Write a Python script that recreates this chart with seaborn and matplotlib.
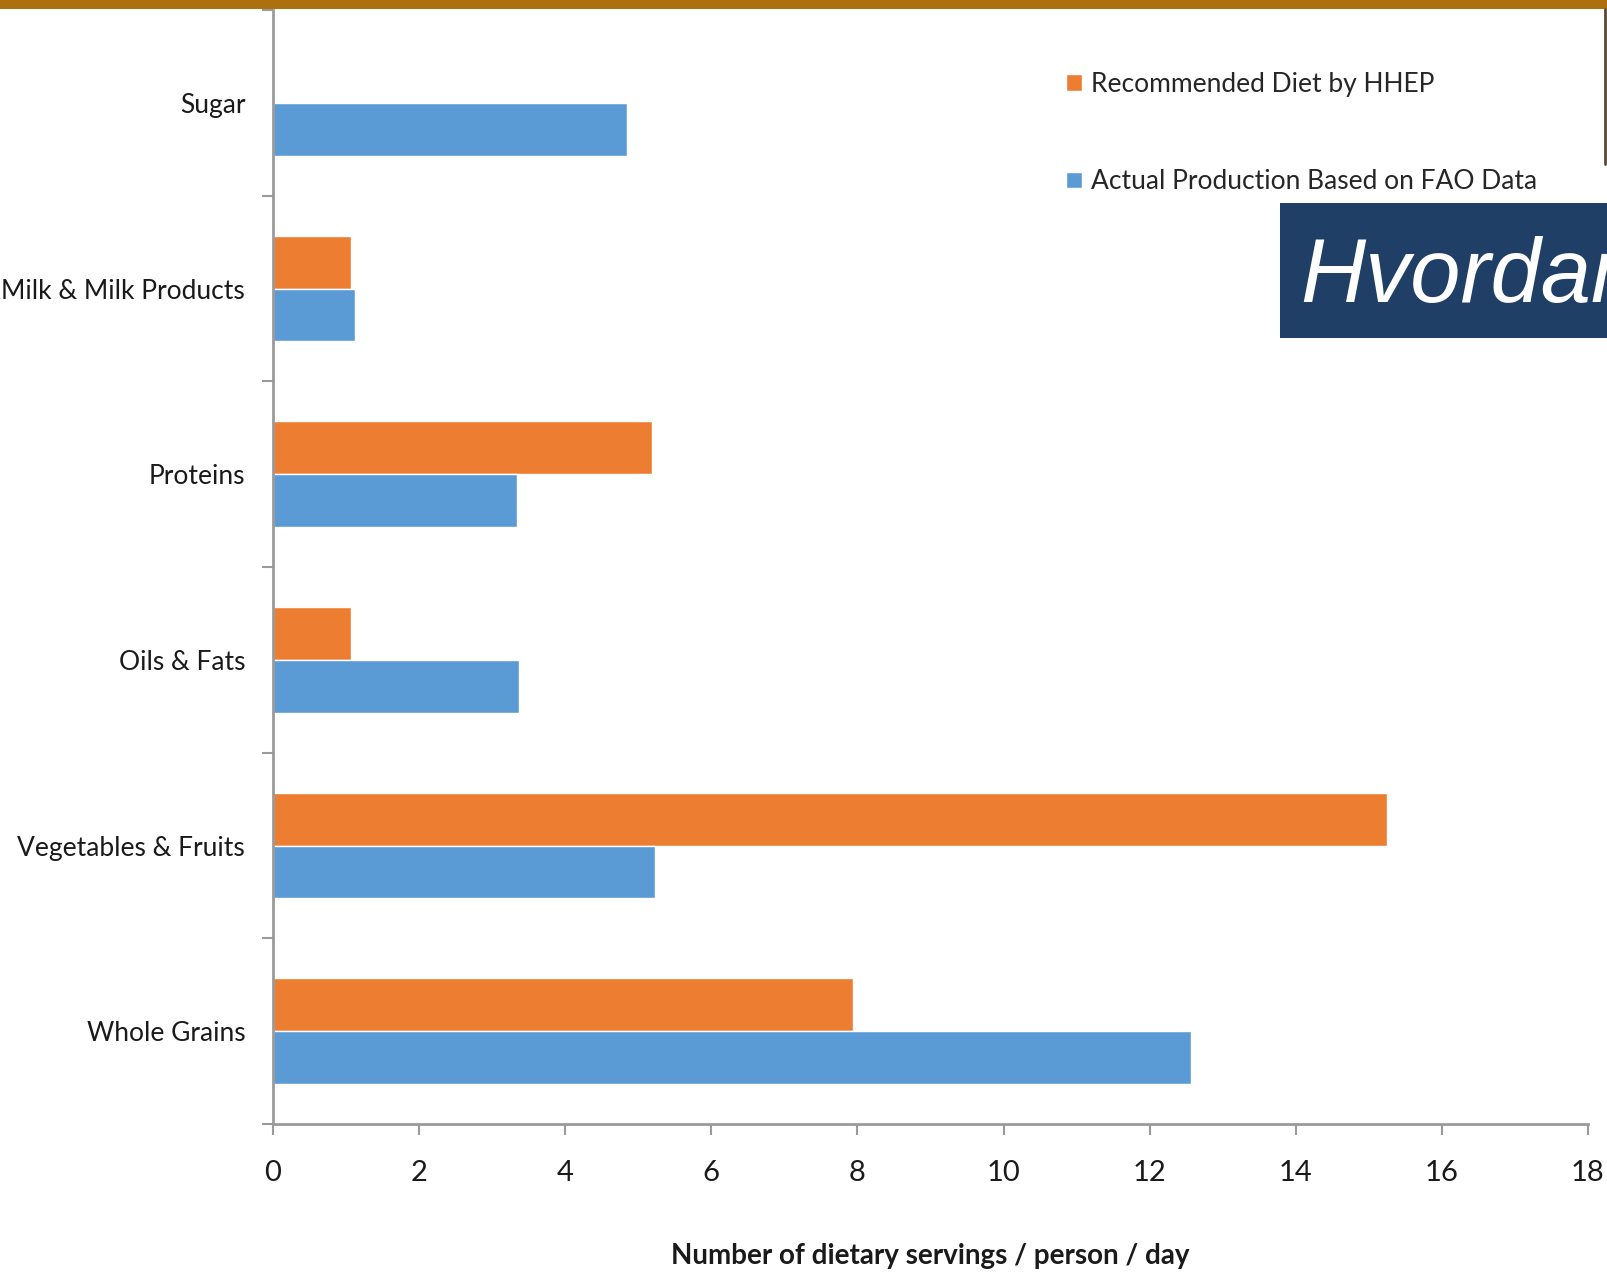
import numpy as np
import pandas as pd
import matplotlib
matplotlib.use("Agg")
import matplotlib.pyplot as plt
import seaborn as sns
from matplotlib.patches import Rectangle
from matplotlib.lines import Line2D

# --- data ---
categories = ["Sugar", "Milk & Milk Products", "Proteins", "Oils & Fats",
              "Vegetables & Fruits", "Whole Grains"]
recommended = [0.0, 1.07, 5.19, 1.07, 15.25, 7.94]
actual = [4.84, 1.12, 3.34, 3.37, 5.23, 12.57]
series_names = ["Recommended Diet by HHEP", "Actual Production Based on FAO Data"]
x_ticks = [0, 2, 4, 6, 8, 10, 12, 14, 16, 18]

df = pd.DataFrame({
    "Category": categories * 2,
    "Servings": recommended + actual,
    "Series": [series_names[0]] * len(categories) + [series_names[1]] * len(categories),
})

sns.set_style("white")
plt.rcParams["font.family"] = ["Lato", "DejaVu Sans"]

W, H = 1608, 1277
fig = plt.figure(figsize=(W / 100, H / 100), dpi=100)
ax = fig.add_axes([273 / W, 1 - 1124 / H, (1588 - 273) / W, (1124 - 10) / H])

sns.barplot(data=df, y="Category", x="Servings", hue="Series", order=categories,
            hue_order=series_names, palette=["#ED7D31", "#5B9BD5"],
            width=0.57, orient="h", ax=ax, saturation=1)

ax.set_xlim(0, 18)
ax.set_ylim(len(categories) - 0.5, -0.5)
ax.set_xticks(x_ticks)
ax.set_xticklabels([str(t) for t in x_ticks])
ax.set_yticks(range(len(categories)))
ax.set_yticks(np.arange(-0.5, len(categories), 1.0), minor=True)
ax.set_xlabel("")
ax.set_ylabel("")

spine_col = "#9a9a9a"
for s in ["top", "right"]:
    ax.spines[s].set_visible(False)
for s in ["left", "bottom"]:
    ax.spines[s].set_color(spine_col)
    ax.spines[s].set_linewidth(2)

ax.tick_params(axis="y", which="major", length=0, pad=20, labelsize=19, labelcolor="#1a1a1a")
ax.tick_params(axis="y", which="minor", length=8, width=1.5, color=spine_col, direction="out", left=True)
ax.tick_params(axis="x", which="major", length=8, width=1.5, color=spine_col, direction="out",
               bottom=True, pad=18, labelsize=21, labelcolor="#1a1a1a")

handles, labels = ax.get_legend_handles_labels()
ax.get_legend().remove()
fig.legend(handles, labels, loc="upper left", bbox_to_anchor=(1066 / W, 1 - 72 / H),
           frameon=False, fontsize=19, handlelength=0.6, handleheight=0.6,
           handletextpad=0.35, labelspacing=2.74, borderpad=0, borderaxespad=0)

fig.text(930 / W, 1 - 1256 / H, "Number of dietary servings / person / day",
         ha="center", va="center", fontsize=20, fontweight="bold", color="#1a1a1a")

# slide decorations: gold bar on top, navy title box at the right
fig.patches.append(Rectangle((0, 1 - 9 / H), 1, 9 / H, transform=fig.transFigure,
                             facecolor="#AD6F10", edgecolor="none"))
fig.patches.append(Rectangle((1280 / W, 1 - 338 / H), (W - 1280) / W, 135 / H,
                             transform=fig.transFigure, facecolor="#1F3F66", edgecolor="none"))
fig.lines.append(Line2D([1605 / W, 1605 / W], [1 - 9 / H, 1 - 164 / H], transform=fig.transFigure,
                        color="#5a4a30", linewidth=2))
fig.text(1300 / W, 1 - 302 / H, "Hvordan", ha="left", va="baseline", fontsize=65,
         style="italic", color="white", family=["Liberation Sans", "DejaVu Sans"])

fig.savefig("out.png", dpi=100)
